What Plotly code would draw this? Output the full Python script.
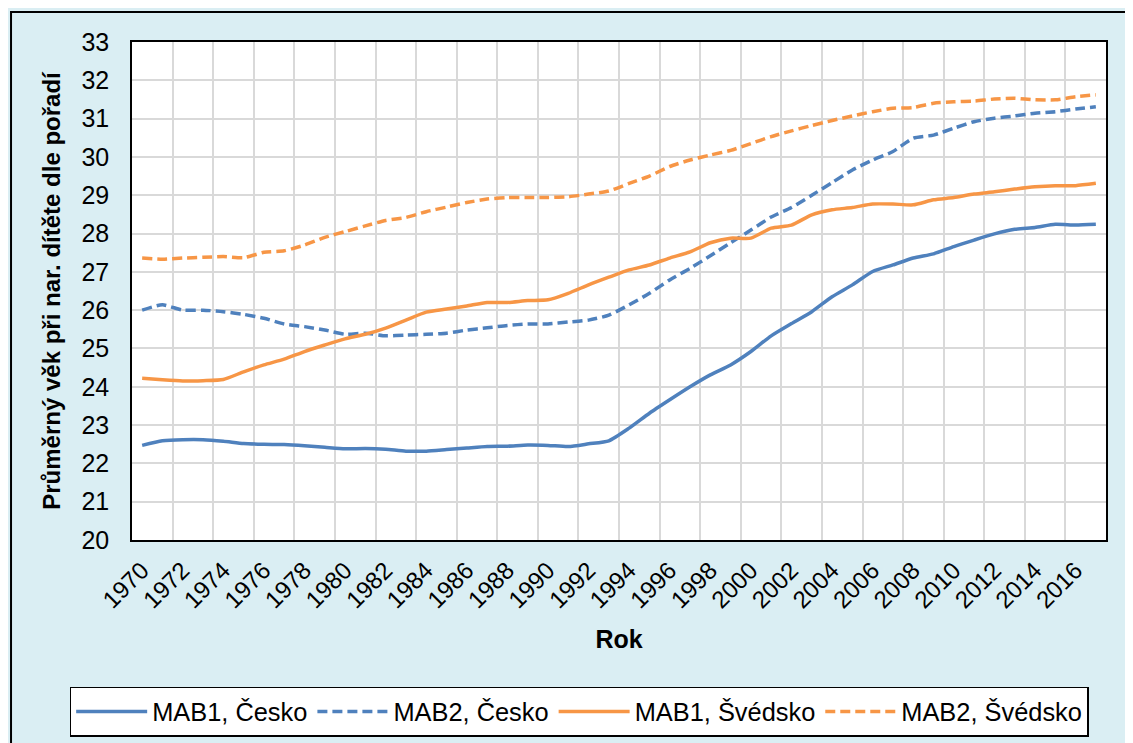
import plotly.graph_objects as go

# data
years = list(range(1970, 2018))

mab1_cz = [22.47, 22.59, 22.62, 22.62, 22.58, 22.52, 22.50, 22.49, 22.46, 22.42,
           22.38, 22.39, 22.37, 22.32, 22.32, 22.36, 22.40, 22.44, 22.45, 22.48,
           22.47, 22.44, 22.51, 22.59, 22.92, 23.31, 23.66, 24.00, 24.31, 24.57,
           24.92, 25.33, 25.65, 25.96, 26.35, 26.66, 27.01, 27.18, 27.36, 27.47,
           27.66, 27.83, 27.99, 28.11, 28.16, 28.24, 28.22, 28.24]

mab2_cz = [26.00, 26.14, 26.00, 26.00, 25.96, 25.89, 25.79, 25.64, 25.57, 25.48,
           25.37, 25.40, 25.33, 25.35, 25.37, 25.40, 25.48, 25.54, 25.60, 25.64,
           25.64, 25.69, 25.74, 25.87, 26.14, 26.44, 26.79, 27.09, 27.42, 27.76,
           28.09, 28.43, 28.68, 29.00, 29.33, 29.66, 29.92, 30.14, 30.49, 30.57,
           30.75, 30.92, 31.01, 31.07, 31.14, 31.18, 31.25, 31.31]

mab1_se = [24.22, 24.18, 24.15, 24.16, 24.19, 24.39, 24.57, 24.72, 24.92, 25.09,
           25.25, 25.37, 25.53, 25.74, 25.95, 26.03, 26.11, 26.20, 26.20, 26.25,
           26.27, 26.44, 26.66, 26.86, 27.05, 27.18, 27.36, 27.52, 27.76, 27.88,
           27.88, 28.14, 28.22, 28.49, 28.62, 28.68, 28.77, 28.77, 28.75, 28.88,
           28.94, 29.03, 29.09, 29.16, 29.22, 29.25, 29.25, 29.31]

mab2_se = [27.36, 27.33, 27.36, 27.38, 27.40, 27.37, 27.51, 27.55, 27.70, 27.90,
           28.05, 28.20, 28.34, 28.42, 28.57, 28.69, 28.81, 28.90, 28.94, 28.94,
           28.94, 28.96, 29.03, 29.11, 29.31, 29.50, 29.75, 29.92, 30.05, 30.17,
           30.35, 30.53, 30.68, 30.82, 30.95, 31.07, 31.18, 31.27, 31.29, 31.40,
           31.44, 31.46, 31.51, 31.53, 31.49, 31.49, 31.57, 31.62]

tick_years = years[::2]

BLUE = '#4F81BD'
ORANGE = '#F79646'
FONT = 'Liberation Sans, Arial, sans-serif'

fig = go.Figure()

series = [
    ('MAB1, Česko', mab1_cz, BLUE, 'solid'),
    ('MAB2, Česko', mab2_cz, BLUE, '10px,5px'),
    ('MAB1, Švédsko', mab1_se, ORANGE, 'solid'),
    ('MAB2, Švédsko', mab2_se, ORANGE, '10px,5px'),
]
for name, vals, col, dash in series:
    fig.add_trace(go.Scatter(
        x=years, y=vals, name=name, mode='lines',
        line=dict(color=col, width=3.5, dash=dash, shape='spline', smoothing=0.6),
    ))

# page body has an 8px margin, so margins are shifted; the figure runs past the window edge
fig.update_layout(
    width=1133, height=743,
    paper_bgcolor='#DAEEF3', plot_bgcolor='white',
    margin=dict(l=124, r=35, t=34, b=211, autoexpand=False),
    font=dict(family=FONT, size=25, color='black'),
    showlegend=True,
    legend=dict(
        orientation='h', x=-0.064, y=-0.295, xanchor='left', yanchor='top',
        bgcolor='white', bordercolor='black', borderwidth=1.5,
        font=dict(size=25.4), itemwidth=71, traceorder='normal',
    ),
    shapes=[dict(type='rect', xref='paper', yref='paper',
                 x0=-0.1242, x1=1.1, y0=-0.5, y1=1.0602,
                 line=dict(color='black', width=2), layer='below')],
)

# gridlines sit between categories, labels are shifted onto the category centre
fig.update_xaxes(
    range=[1969.5, 2017.5], tickmode='array',
    tickvals=[y - 0.5 for y in tick_years],
    ticktext=[str(y) for y in tick_years], tickangle=-45,
    ticklabelshift=10, tickfont=dict(size=24),
    showgrid=True, gridcolor='#D9D9D9', gridwidth=2,
    showline=True, linecolor='black', linewidth=1.5, mirror=True,
    ticks='', ticklabelstandoff=5,
    title=dict(text='<b>Rok</b>', standoff=18, font=dict(size=25)),
    zeroline=False,
)
fig.update_yaxes(
    range=[20, 33], dtick=1, showgrid=True, gridcolor='#D9D9D9', gridwidth=2,
    showline=True, linecolor='black', linewidth=1.5, mirror=True,
    ticks='', ticklabelstandoff=16,
    title=dict(text='<b>Průměrný věk při nar. dítěte dle pořadí</b>', standoff=14,
               font=dict(size=24)),
    zeroline=False,
)

fig.write_html('out.html')
